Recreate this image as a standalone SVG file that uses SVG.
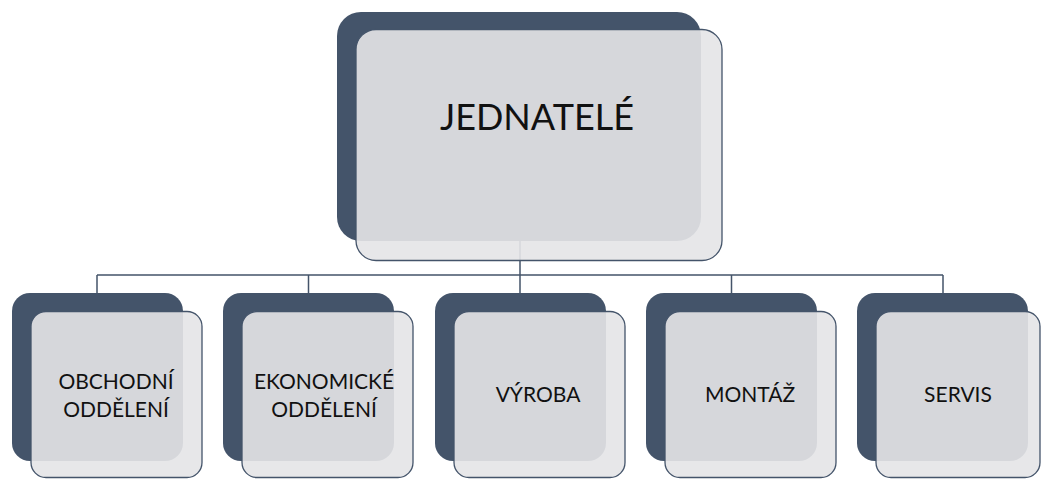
<svg xmlns="http://www.w3.org/2000/svg" width="1042" height="480" viewBox="0 0 1042 480">
  <style>
    .back { fill: #44546a; }
    .front { fill: #e5e5e7; fill-opacity: 0.91; stroke: #44546a; stroke-width: 1.3; }
    .conn { fill: none; stroke: #44546a; stroke-width: 1.5; }
    .lbl { font-family: Lato, "Liberation Sans", sans-serif; fill: #111; text-anchor: middle; }
    .big { font-size: 36px; }
    .small { font-size: 21px; }
  </style>
  <rect width="1042" height="480" fill="#ffffff"/>
  <g id="connectors">
    <path class="conn" d="M520,240 V275 M97,275 H943 M97,275 V293 M308.5,275 V293 M520,275 V293 M731.5,275 V293 M943,275 V293"/>
  </g>
  <g id="jednatele">
    <rect class="back" x="337" y="12" width="364" height="229" rx="24"/>
    <rect class="front" x="356" y="29.5" width="366" height="231" rx="20"/>
    <text class="lbl big" x="537" y="130">JEDNATELÉ</text>
  </g>
  <g id="obchodni">
    <rect class="back" x="12" y="293" width="171" height="168" rx="18"/>
    <rect class="front" x="31" y="311.5" width="171" height="166" rx="15"/>
    <text class="lbl small" x="116" y="389">OBCHODNÍ</text>
    <text class="lbl small" x="116" y="417">ODDĚLENÍ</text>
  </g>
  <g id="ekonomicke">
    <rect class="back" x="223" y="293" width="171" height="168" rx="18"/>
    <rect class="front" x="242" y="311.5" width="171" height="166" rx="15"/>
    <text class="lbl small" x="324" y="389">EKONOMICKÉ</text>
    <text class="lbl small" x="324" y="417">ODDĚLENÍ</text>
  </g>
  <g id="vyroba">
    <rect class="back" x="435" y="293" width="171" height="168" rx="18"/>
    <rect class="front" x="454" y="311.5" width="171" height="166" rx="15"/>
    <text class="lbl small" x="538" y="402">VÝROBA</text>
  </g>
  <g id="montaz">
    <rect class="back" x="646" y="293" width="171" height="168" rx="18"/>
    <rect class="front" x="665" y="311.5" width="171" height="166" rx="15"/>
    <text class="lbl small" x="750" y="402">MONTÁŽ</text>
  </g>
  <g id="servis">
    <rect class="back" x="857" y="293" width="171" height="168" rx="18"/>
    <rect class="front" x="876" y="311.5" width="164" height="166" rx="15"/>
    <text class="lbl small" x="958" y="402">SERVIS</text>
  </g>
</svg>
